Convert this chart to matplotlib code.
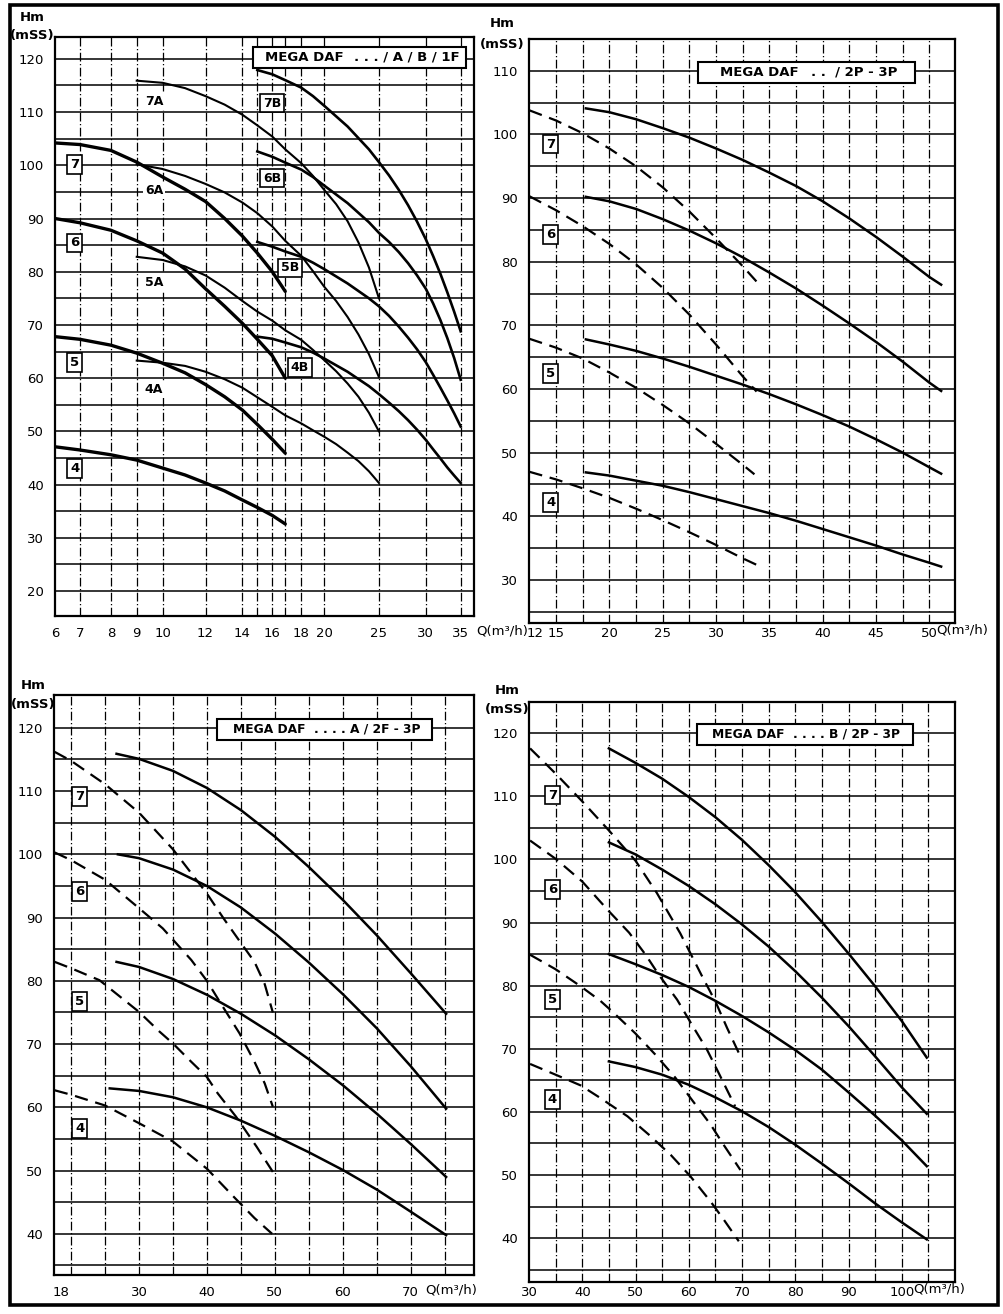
import numpy as np
import matplotlib.pyplot as plt
from matplotlib.patches import Rectangle

plt.rcParams['font.family'] = ['Liberation Sans Narrow', 'DejaVu Sans']

# ---------------- top left : MEGA DAF ... / A / B / 1F ----------------
TL_Q_main = [6, 7, 8, 9, 10, 11, 12, 13, 14, 15, 16, 17]
TL_H_7 = [104.2, 103.9, 102.8, 100.6, 97.8, 95.5, 93.2, 90.0, 86.7, 83.5, 80.0, 76.3]
TL_H_6 = [90.0, 89.2, 87.8, 85.8, 83.5, 80.5, 76.8, 73.5, 70.3, 67.3, 64.2, 60.0]
TL_H_5 = [67.8, 67.3, 66.2, 64.7, 62.8, 61.0, 58.8, 56.5, 54.0, 51.3, 48.5, 45.9]
TL_H_4 = [47.1, 46.5, 45.6, 44.6, 43.1, 41.8, 40.3, 38.8, 37.1, 35.7, 34.2, 32.6]

TL_Q_A = [9, 10, 11, 12, 13, 14, 15, 16, 17, 18, 19, 20, 21, 22, 23, 24, 25]
TL_H_7A = [115.9, 115.5, 114.5, 113.0, 111.4, 109.5, 107.5, 105.4, 103.0, 100.4, 98.0, 95.4, 92.7, 89.5, 85.5, 80.8, 75.0]
TL_H_6A = [100.2, 99.3, 98.0, 96.5, 94.9, 93.0, 91.0, 88.5, 85.8, 83.0, 80.1, 77.2, 74.5, 71.5, 68.2, 64.5, 60.2]
TL_H_5A = [82.8, 82.2, 81.0, 79.3, 77.0, 74.5, 72.5, 70.8, 69.0, 67.2, 65.3, 63.4, 61.3, 59.0, 56.5, 53.5, 50.0]
TL_H_4A = [63.3, 62.9, 62.3, 61.2, 59.8, 58.2, 56.4, 54.6, 53.0, 51.5, 50.2, 49.0, 47.6, 46.0, 44.4, 42.5, 40.3]

TL_Q_B = [15, 16, 17, 18, 19, 20, 22, 24, 25, 26, 27, 28, 29, 30, 31, 32, 33, 34, 35]
TL_H_7B = [117.9, 117.1, 116.0, 114.6, 113.0, 111.2, 107.3, 103.0, 100.6, 98.1, 95.4, 92.5, 89.4, 86.1, 82.9, 79.6, 76.1, 72.5, 68.8]
TL_H_6B = [102.6, 101.6, 100.5, 99.2, 97.8, 96.2, 92.9, 89.3, 87.3, 85.6, 83.7, 81.6, 79.3, 76.8, 74.0, 70.9, 67.5, 63.8, 59.7]
TL_H_5B = [85.6, 84.7, 83.8, 82.8, 81.7, 80.5, 77.8, 75.0, 73.5, 71.7, 69.7, 67.6, 65.4, 63.0, 60.6, 58.2, 55.8, 53.4, 50.9]
TL_H_4B = [67.8, 67.4, 66.7, 65.8, 64.8, 63.7, 61.2, 58.5, 57.0, 55.4, 53.8, 52.1, 50.3, 48.4, 46.6, 44.9, 43.2, 41.7, 40.3]

TL_XTICKS = [6, 7, 8, 9, 10, 12, 14, 16, 18, 20, 25, 30, 35]
TL_XGRID = [7, 8, 9, 10, 12, 14, 15, 16, 17, 18, 20, 25, 30, 35]
# printed Q scale of the original sheet (value -> pixel along the axis)
TL_SCALE_Q = [5, 6, 7, 8, 9, 10, 12, 14, 15, 16, 17, 18, 20, 25, 30, 35, 40]
TL_SCALE_PX = [30, 55, 80, 111, 137, 163, 206, 243, 258, 273, 286, 302, 325, 380, 427, 462, 490]

# ---------------- top right : MEGA DAF .. / 2P - 3P ----------------
TR_Q_S = [17.8, 20, 22.5, 25, 27.5, 30, 32.5, 35, 37.5, 40, 42.5, 45, 47.5, 50, 51.1]
TR_H_S7 = [104.1, 103.5, 102.4, 101.0, 99.5, 97.8, 96.0, 94.0, 91.9, 89.5, 86.8, 83.9, 80.8, 77.6, 76.4]
TR_H_S6 = [90.2, 89.5, 88.3, 86.7, 84.9, 82.9, 80.7, 78.3, 75.8, 73.1, 70.3, 67.4, 64.3, 61.0, 59.7]
TR_H_S5 = [67.8, 67.0, 66.0, 64.8, 63.5, 62.1, 60.7, 59.2, 57.6, 55.9, 54.1, 52.1, 50.0, 47.7, 46.7]
TR_H_S4 = [46.9, 46.4, 45.6, 44.8, 43.8, 42.7, 41.6, 40.5, 39.3, 38.0, 36.7, 35.4, 34.0, 32.7, 32.1]
TR_Q_D7 = [12.5, 15, 17.5, 20, 22.5, 25, 27.5, 30, 32.5, 33.9]
TR_H_D7 = [103.8, 102.2, 100.2, 97.8, 95.0, 91.7, 87.9, 83.7, 79.3, 76.7]
TR_Q_D6 = [12.5, 15, 17.5, 20, 22.5, 25, 27.5, 30, 32.5, 33.8]
TR_H_D6 = [90.3, 88.1, 85.6, 82.8, 79.6, 75.9, 71.7, 67.0, 62.0, 59.6]
TR_Q_D5 = [12.5, 15, 17.5, 20, 22.5, 25, 27.5, 30, 32.5, 33.6]
TR_H_D5 = [67.9, 66.5, 64.8, 62.6, 60.2, 57.5, 54.6, 51.4, 48.1, 46.6]
TR_Q_D4 = [12.5, 15, 17.5, 20, 22.5, 25, 27.5, 30, 32.5, 33.9]
TR_H_D4 = [47.0, 45.8, 44.4, 42.9, 41.2, 39.4, 37.5, 35.5, 33.4, 32.3]

# ---------------- bottom left : MEGA DAF .... A / 2F - 3P ----------------
BL_Q_S7 = [26.7, 30, 35, 40, 45, 50, 55, 60, 65, 70, 75.2]
BL_H_S7 = [115.9, 115.1, 113.2, 110.5, 107.0, 102.8, 98.0, 92.8, 87.2, 81.2, 74.8]
BL_Q_S6 = [26.9, 30, 35, 40, 45, 50, 55, 60, 65, 70, 75.2]
BL_H_S6 = [100.0, 99.4, 97.6, 95.0, 91.6, 87.5, 82.9, 77.9, 72.5, 66.5, 59.8]
BL_Q_S5 = [26.7, 30, 35, 40, 45, 50, 55, 60, 65, 70, 75.2]
BL_H_S5 = [83.0, 82.2, 80.3, 77.8, 74.8, 71.4, 67.6, 63.5, 59.0, 54.2, 49.0]
BL_Q_S4 = [25.7, 30, 35, 40, 45, 50, 55, 60, 65, 70, 75.2]
BL_H_S4 = [63.0, 62.6, 61.6, 60.0, 57.9, 55.5, 52.9, 50.1, 47.0, 43.5, 39.8]
BL_Q_D7 = [17.6, 20, 25, 30, 35, 40, 42.5, 45, 47, 48.5, 49.7]
BL_H_D7 = [116.2, 114.8, 111.1, 106.6, 100.8, 93.8, 89.8, 86.0, 83.0, 79.5, 75.0]
BL_Q_D6 = [17.6, 20, 25, 30, 33.5, 37.7, 40, 42, 44.8, 47, 48.5, 49.7]
BL_H_D6 = [100.3, 99.1, 96.0, 91.5, 88.3, 83.3, 80.0, 76.5, 71.7, 67.2, 63.8, 60.1]
BL_Q_D5 = [17.6, 20, 24.2, 30, 33, 35, 37.7, 40, 41.6, 44.3, 47.3, 49.7]
BL_H_D5 = [83.0, 82.0, 80.1, 75.1, 72.0, 70.1, 67.2, 64.8, 62.2, 58.5, 53.8, 49.8]
BL_Q_D4 = [17.6, 20, 25, 30, 35, 40, 44, 47, 49.6]
BL_H_D4 = [62.7, 62.0, 60.3, 57.5, 54.6, 50.3, 45.8, 42.5, 40.0]

# ---------------- bottom right : MEGA DAF .... B / 2P - 3P ----------------
BR_Q_S = [45, 50, 55, 60, 65, 70, 75, 80, 85, 90, 95, 100, 104.7]
BR_H_S7 = [117.6, 115.3, 112.8, 109.9, 106.7, 103.1, 99.1, 94.8, 90.1, 85.1, 79.9, 74.4, 68.6]
BR_H_S6 = [102.7, 100.8, 98.4, 95.8, 92.9, 89.7, 86.2, 82.3, 78.1, 73.6, 68.8, 63.9, 59.7]
BR_H_S5 = [85.0, 83.4, 81.7, 79.8, 77.6, 75.2, 72.6, 69.8, 66.7, 63.1, 59.4, 55.5, 51.4]
BR_H_S4 = [68.0, 67.1, 65.9, 64.3, 62.3, 60.1, 57.6, 54.8, 51.8, 48.7, 45.5, 42.5, 39.8]
BR_Q_D7 = [30.2, 35, 40, 45, 50, 54, 58.4, 62.5, 65, 67.2, 69.7]
BR_H_D7 = [117.6, 113.6, 109.2, 104.6, 99.8, 94.7, 88.3, 81.5, 77.5, 73.3, 68.8]
BR_Q_D6 = [30.2, 35, 40, 45, 48.8, 51.9, 54.4, 57.8, 60.6, 63.4, 65.6, 68.7]
BR_H_D6 = [103.0, 100.1, 96.5, 91.8, 88.4, 84.9, 81.7, 77.8, 73.8, 69.9, 66.2, 60.9]
BR_Q_D5 = [30.2, 35, 39.7, 43.4, 45.9, 49.9, 53.7, 57.5, 60.6, 64.1, 66.3, 69.7]
BR_H_D5 = [84.9, 82.6, 79.9, 77.6, 75.7, 72.5, 69.1, 65.4, 61.9, 58.0, 55.1, 50.8]
BR_Q_D4 = [30.2, 34.7, 39.7, 43.4, 48.5, 52.5, 56.6, 60.3, 64.1, 66.6, 69.4]
BR_H_D4 = [67.6, 66.0, 64.2, 62.2, 59.3, 56.4, 53.2, 49.8, 45.8, 42.9, 39.5]

TITLE_TL = ("MEGA DAF", ". . . / A / B / 1F")
TITLE_TR = ("MEGA DAF", ". .  / 2P - 3P")
TITLE_BL = "MEGA DAF  . . . . A / 2F - 3P"
TITLE_BR = "MEGA DAF  . . . . B / 2P - 3P"

DASH = (0, (6, 3.5))


def frame(ax, xlim, ylim, xgrid, yticks, xticks, xlabels, xpad):
    ax.set_xlim(*xlim)
    ax.set_ylim(*ylim)
    for g in xgrid:
        ax.axvline(g, color='black', lw=0.9, ls=(0, (7, 2, 1, 2)), zorder=1)
    for h in np.arange(20, 125, 5):
        if ylim[0] < h < ylim[1]:
            ax.axhline(h, color='black', lw=1.1, zorder=1)
    ax.set_yticks(yticks)
    ax.set_yticklabels([str(v) for v in yticks])
    ax.set_xticks(xticks)
    ax.set_xticklabels(xlabels)
    ax.tick_params(length=0, labelsize=9.5)
    ax.tick_params(axis='y', pad=8)
    ax.tick_params(axis='x', pad=xpad)
    for s in ax.spines.values():
        s.set_linewidth(1.6)


def title_box(ax, x0, x1, yc, xt, left, xr=None, right=None, fs=9.5):
    h = 0.036
    ax.add_patch(Rectangle((x0, yc - h / 2), x1 - x0, h, transform=ax.transAxes,
                           fc='white', ec='black', lw=1.5, zorder=5))
    ax.text(xt, yc, left, transform=ax.transAxes, ha='left', va='center',
            fontsize=fs, fontweight='bold', zorder=6)
    if right:
        ax.text(xr, yc, right, transform=ax.transAxes, ha='right', va='center',
                fontsize=fs, fontweight='bold', zorder=6)


def hm(ax, dx, y1, y2):
    ax.text(dx, y1, "Hm", transform=ax.transAxes, ha='center', va='center', fontsize=9.5, fontweight='bold')
    ax.text(dx, y2, "(mSS)", transform=ax.transAxes, ha='center', va='center', fontsize=9.5, fontweight='bold')


def box(ax, x, y, s, fs=9.5):
    ax.text(x, y, s, ha='center', va='center', fontsize=fs, fontweight='bold', zorder=6,
            bbox=dict(boxstyle='square,pad=0.22', fc='white', ec='black', lw=1.2))


fig = plt.figure(figsize=(10.04, 13.14), dpi=100)
fig.add_artist(Rectangle((0.010, 0.007), 0.984, 0.989, transform=fig.transFigure,
                         fill=False, ec='black', lw=2.6))

# ---- top left ----
ax = fig.add_axes([0.0548, 0.5312, 0.4173, 0.4406])
fwd = lambda q: np.interp(np.log(np.asarray(q, float)), np.log(TL_SCALE_Q), TL_SCALE_PX)
inv = lambda p: np.exp(np.interp(p, TL_SCALE_PX, np.log(TL_SCALE_Q)))
ax.set_xscale('function', functions=(fwd, inv))
frame(ax, (6, 37.3), (15.3, 124.1), TL_XGRID, list(range(20, 121, 10)),
      TL_XTICKS, [str(v) for v in TL_XTICKS], 8)
for hh in [TL_H_7, TL_H_6, TL_H_5, TL_H_4]:
    ax.plot(TL_Q_main, hh, color='black', lw=2.4, solid_capstyle='round', zorder=3)
for hh in [TL_H_7A, TL_H_6A, TL_H_5A, TL_H_4A]:
    ax.plot(TL_Q_A, hh, color='black', lw=1.5, zorder=3)
for hh in [TL_H_7B, TL_H_6B, TL_H_5B, TL_H_4B]:
    ax.plot(TL_Q_B, hh, color='black', lw=1.9, zorder=3)
for s, h in zip("7654", [100.2, 85.4, 63.0, 43.0]):
    box(ax, 6.78, h, s)
for s, h in zip(["7A", "6A", "5A", "4A"], [112.0, 95.2, 78.0, 57.8]):
    ax.text(9.65, h, s, ha='center', va='center', fontsize=9, fontweight='bold', zorder=6,
            bbox=dict(boxstyle='square,pad=0.15', fc='white', ec='none'))
for s, q, h in zip(["7B", "6B", "5B", "4B"], [16.0, 16.0, 17.3, 17.9], [111.7, 97.6, 80.7, 62.0]):
    box(ax, q, h, s, 9)
title_box(ax, 0.473, 0.98, 0.965, 0.50, TITLE_TL[0], 0.965, TITLE_TL[1])
hm(ax, -0.055, 1.033, 1.002)
ax.text(1.005, -0.026, "Q(m³/h)", transform=ax.transAxes, ha='left', va='center', fontsize=9.5)

# ---- top right ----
ax = fig.add_axes([0.5269, 0.5259, 0.4243, 0.4444])
frame(ax, (12.47, 52.4), (23.24, 115.0), np.arange(15, 51, 2.5), list(range(30, 111, 10)),
      [13.0, 15, 20, 25, 30, 35, 40, 45, 50], ["12", "15", "20", "25", "30", "35", "40", "45", "50"], 3)
for hh in [TR_H_S7, TR_H_S6, TR_H_S5, TR_H_S4]:
    ax.plot(TR_Q_S, hh, color='black', lw=1.8, zorder=3)
for qq, hh in [(TR_Q_D7, TR_H_D7), (TR_Q_D6, TR_H_D6), (TR_Q_D5, TR_H_D5), (TR_Q_D4, TR_H_D4)]:
    ax.plot(qq, hh, color='black', lw=1.6, ls=DASH, zorder=3)
for s, h in zip("7654", [98.5, 84.3, 62.5, 42.2]):
    box(ax, 14.5, h, s)
title_box(ax, 0.397, 0.906, 0.943, 0.448, TITLE_TR[0], 0.864, TITLE_TR[1])
hm(ax, -0.062, 1.027, 0.99)
ax.text(0.955, -0.012, "Q(m³/h)", transform=ax.transAxes, ha='left', va='center', fontsize=9.5)

# ---- bottom left ----
ax = fig.add_axes([0.0538, 0.0297, 0.4183, 0.4414])
frame(ax, (17.5, 79.3), (33.5, 125.2), np.arange(20, 76, 5), list(range(40, 121, 10)),
      [18.6, 30, 40, 50, 60, 70], ["18", "30", "40", "50", "60", "70"], 8)
for qq, hh in [(BL_Q_S7, BL_H_S7), (BL_Q_S6, BL_H_S6), (BL_Q_S5, BL_H_S5), (BL_Q_S4, BL_H_S4)]:
    ax.plot(qq, hh, color='black', lw=1.8, zorder=3)
for qq, hh in [(BL_Q_D7, BL_H_D7), (BL_Q_D6, BL_H_D6), (BL_Q_D5, BL_H_D5), (BL_Q_D4, BL_H_D4)]:
    ax.plot(qq, hh, color='black', lw=1.6, ls=DASH, zorder=3)
for s, h in zip("7654", [109.1, 94.1, 76.7, 56.7]):
    box(ax, 21.3, h, s)
title_box(ax, 0.388, 0.90, 0.941, 0.425, TITLE_BL, fs=8.8)
hm(ax, -0.05, 1.017, 0.983)
ax.text(0.883, -0.026, "Q(m³/h)", transform=ax.transAxes, ha='left', va='center', fontsize=9.5)

# ---- bottom right ----
ax = fig.add_axes([0.5269, 0.0246, 0.4243, 0.4414])
frame(ax, (30.2, 110.0), (33.1, 125.0), np.arange(35, 106, 5), list(range(40, 121, 10)),
      [30, 40, 50, 60, 70, 80, 90, 100], ["30", "40", "50", "60", "70", "80", "90", "100"], 3)
for hh in [BR_H_S7, BR_H_S6, BR_H_S5, BR_H_S4]:
    ax.plot(BR_Q_S, hh, color='black', lw=1.8, zorder=3)
for qq, hh in [(BR_Q_D7, BR_H_D7), (BR_Q_D6, BR_H_D6), (BR_Q_D5, BR_H_D5), (BR_Q_D4, BR_H_D4)]:
    ax.plot(qq, hh, color='black', lw=1.6, ls=DASH, zorder=3)
for s, h in zip("7654", [110.2, 95.2, 77.8, 62.0]):
    box(ax, 34.4, h, s)
title_box(ax, 0.394, 0.901, 0.944, 0.43, TITLE_BR, fs=8.8)
hm(ax, -0.052, 1.02, 0.986)
ax.text(0.901, -0.012, "Q(m³/h)", transform=ax.transAxes, ha='left', va='center', fontsize=9.5)

fig.savefig("out.png", dpi=100)
